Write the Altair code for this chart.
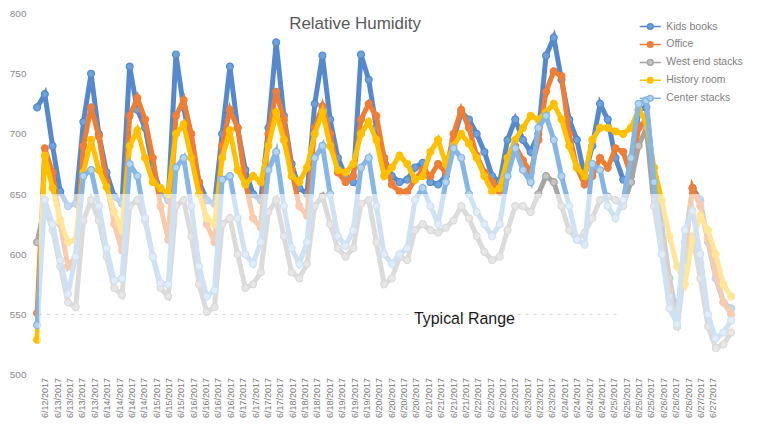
import altair as alt
import pandas as pd

series_names = ["Kids books", "Office", "West end stacks", "History room", "Center stacks"]
fill_colors = ["#6CA3DD", "#EF7F3A", "#C9C3BD", "#FFC000", "#B4D5F0"]
line_colors = ["#5689CC", "#EE7E33", "#A5A5A5", "#FFC000", "#86B6E4"]

start_time = "2017-06-12 16:00"
step = "4h"

kids = [722, 733, 690, 652, 640, 642,
        710, 750, 700, 668, 648, 642,
        756, 720, 705, 672, 652, 645,
        766, 722, 690, 660, 645, 642,
        700, 756, 705, 670, 650, 645,
        705, 776, 715, 675, 655, 650,
        725, 765, 712, 680, 665, 660,
        766, 745, 705, 680, 665, 660,
        662, 672, 676, 660, 658, 665,
        695, 718, 712, 700, 685, 665,
        660, 695, 712, 695, 685, 700,
        765, 780, 745, 712, 695, 665,
        690, 725, 712, 680, 662, 660,
        720, 722, 665, 625, 580, 548,
        610, 655, 645, 610, 580, 560, 555]

office = [551, 688, 668, 625, 590, 598,
          690, 722, 698, 660, 625, 603,
          715, 730, 712, 680, 640, 612,
          715, 728, 700, 660, 625, 610,
          690, 720, 705, 660, 630, 622,
          700, 735, 712, 670, 640, 632,
          705, 723, 700, 668, 660, 665,
          712, 725, 715, 680, 658, 652,
          652, 662, 670, 665, 675, 668,
          700, 720, 705, 682, 668, 660,
          652, 670, 690, 678, 668, 695,
          735, 752, 748, 700, 672, 658,
          665, 680, 672, 688, 685, 665,
          705, 712, 655, 610, 570, 540,
          600, 655, 640, 612, 585, 560, 550]

west = [610, 640, 620, 590, 560, 556,
        628, 645, 628, 598, 572, 566,
        640, 645, 628, 598, 572, 565,
        640, 645, 615, 575, 552, 556,
        625, 630, 600, 572, 575, 585,
        635, 645, 615, 585, 580, 592,
        640, 648, 625, 605, 598, 605,
        642, 645, 610, 575, 580, 598,
        595, 620, 625, 620, 618, 622,
        628, 640, 630, 615, 602, 595,
        598, 620, 640, 640, 635, 650,
        665, 660, 640, 620, 612, 618,
        630, 645, 648, 645, 640, 660,
        690, 705, 640, 600, 565, 540,
        590, 615, 580, 540, 522, 525, 535]

history = [529, 682, 655, 628, 610, 612,
           668, 695, 670, 656, 635, 620,
           690, 703, 680, 660, 655, 650,
           700, 708, 680, 650, 630, 625,
           680, 703, 670, 658, 665, 660,
           690, 718, 695, 665, 660, 672,
           700, 718, 690, 670, 668, 675,
           700, 710, 695, 665, 672, 682,
           675, 662, 665, 685, 695, 675,
           690, 700, 692, 680, 665, 652,
           655, 680, 695, 705, 715, 712,
           718, 725, 712, 690, 672, 665,
           695, 705, 705, 702, 700, 705,
           720, 710, 672, 645, 615, 590,
           575, 612, 632, 620, 600, 575, 565]

center = [541, 645, 625, 595, 567, 598,
          665, 670, 640, 605, 578, 580,
          675, 665, 630, 598, 576, 575,
          672, 680, 640, 590, 565, 570,
          662, 665, 630, 600, 592, 610,
          670, 685, 640, 605, 592, 610,
          680, 690, 650, 615, 607, 620,
          672, 680, 640, 600, 592, 600,
          605, 645, 655, 640, 625, 660,
          688, 680, 650, 635, 625, 615,
          625, 665, 688, 670, 660, 705,
          715, 695, 665, 640, 612, 608,
          675, 670, 640, 630, 645, 680,
          725, 728, 660, 600, 555, 542,
          620, 636, 600, 550, 530, 535, 545]

y_ticks = [500, 550, 600, 650, 700, 750, 800]
typical_low, typical_high = 500, 650
typical_line = 550

all_values = [kids, office, west, history, center]
times = pd.date_range(start_time, periods=len(kids), freq=step).strftime("%Y-%m-%dT%H:%M:%S")
rows = []
for name, vals in zip(series_names, all_values):
    for t, v in zip(times, vals):
        rows.append({"time": t, "value": v, "series": name})
df = pd.DataFrame(rows)


def dt(ts):
    ts = pd.Timestamp(ts)
    return alt.DateTime(year=int(ts.year), month=int(ts.month), date=int(ts.day),
                        hours=int(ts.hour), minutes=int(ts.minute))


label_times = pd.date_range("2017-06-12 20:00", periods=55, freq="385min")
tick_vals = [dt(t) for t in label_times]

x_scale = alt.Scale(domain=[dt("2017-06-12 14:52"), dt("2017-06-27 22:10")], nice=False)
y_scale = alt.Scale(domain=[500, 800], nice=False, zero=False)

x_axis = alt.Axis(values=tick_vals, format="%-m/%-d/%Y", labelAngle=270, labelOverlap=False,
                  labelFontSize=9, labelColor="#7a7a7a", labelFont="Liberation Sans",
                  domain=False, ticks=False, grid=False, title=None, labelPadding=3,
                  labelFlush=False, labelSeparation=0)
y_axis = alt.Axis(values=y_ticks, labelFontSize=10, labelColor="#8a8a8a", labelFont="Liberation Sans",
                  domain=False, ticks=False, grid=False, title=None, labelPadding=9)

sym_path = "M-1.5,0H-0.4M0.4,0H1.5M0.4,0A0.4,0.4,0,1,1,-0.4,0A0.4,0.4,0,1,1,0.4,0Z"
leg = alt.Legend(title=None, orient="none", legendX=609, legendY=5, symbolType=sym_path,
                 symbolSize=200, symbolStrokeWidth=1.5, labelFontSize=10.5,
                 labelColor="#7f7f7f", labelFont="Liberation Sans", labelOffset=8,
                 rowPadding=4, padding=0, symbolOpacity=1)

fill_scale = alt.Scale(domain=series_names, range=fill_colors)
stroke_scale = alt.Scale(domain=series_names, range=line_colors)

layers = []
for name in series_names:
    d = df[df.series == name]
    base = alt.Chart(d).encode(
        x=alt.X("time:T", scale=x_scale, axis=x_axis),
        y=alt.Y("value:Q", scale=y_scale, axis=y_axis),
    )
    line = base.mark_line(strokeWidth=5).encode(
        stroke=alt.Stroke("series:N", scale=stroke_scale, legend=leg)
    )
    pts = base.mark_point(filled=True, shape="circle", size=48, opacity=1, strokeWidth=1.2).encode(
        color=alt.Color("series:N", scale=fill_scale, legend=leg),
        stroke=alt.Stroke("series:N", scale=stroke_scale, legend=leg),
    )
    layers += [line, pts]

overlay_df = pd.DataFrame({"x0": ["2017-06-12T17:00:00"], "x1": ["2017-06-27T22:10:00"],
                           "y0": [typical_low], "y1": [typical_high]})
overlay = alt.Chart(overlay_df).mark_rect(color="white", opacity=0.6).encode(
    x=alt.X("x0:T", scale=x_scale, axis=x_axis), x2="x1:T",
    y=alt.Y("y0:Q", scale=y_scale, axis=y_axis), y2="y1:Q")

rule_df = pd.DataFrame({"x0": ["2017-06-12T17:00:00"], "x1": ["2017-06-25T05:00:00"], "y": [typical_line]})
rule = alt.Chart(rule_df).mark_rule(color="#d4d4d4", strokeDash=[3, 5], strokeWidth=1).encode(
    x=alt.X("x0:T", scale=x_scale, axis=x_axis), x2="x1:T",
    y=alt.Y("y:Q", scale=y_scale, axis=y_axis))

title = alt.Chart(pd.DataFrame({"t": ["Relative Humidity"]})).mark_text(
    font="Liberation Sans", fontSize=17, color="#595959", align="center", baseline="alphabetic"
).encode(text="t:N", x=alt.value(321), y=alt.value(15))

typ = alt.Chart(pd.DataFrame({"t": ["Typical Range"]})).mark_text(
    font="Liberation Sans", fontSize=16, color="#1a1a1a", align="left", baseline="alphabetic"
).encode(text="t:N", x=alt.value(380), y=alt.value(311))

chart = alt.layer(*layers, overlay, rule, title, typ).properties(
    width=710, height=362,
    padding={"left": 27, "top": 5, "right": 10, "bottom": 50},
    autosize=alt.AutoSizeParams(type="none"),
    background="white",
).configure_view(stroke=None).configure_axisX(labelOverlap=False)

chart.save("out.html", embed_options={"renderer": "svg", "actions": False})
